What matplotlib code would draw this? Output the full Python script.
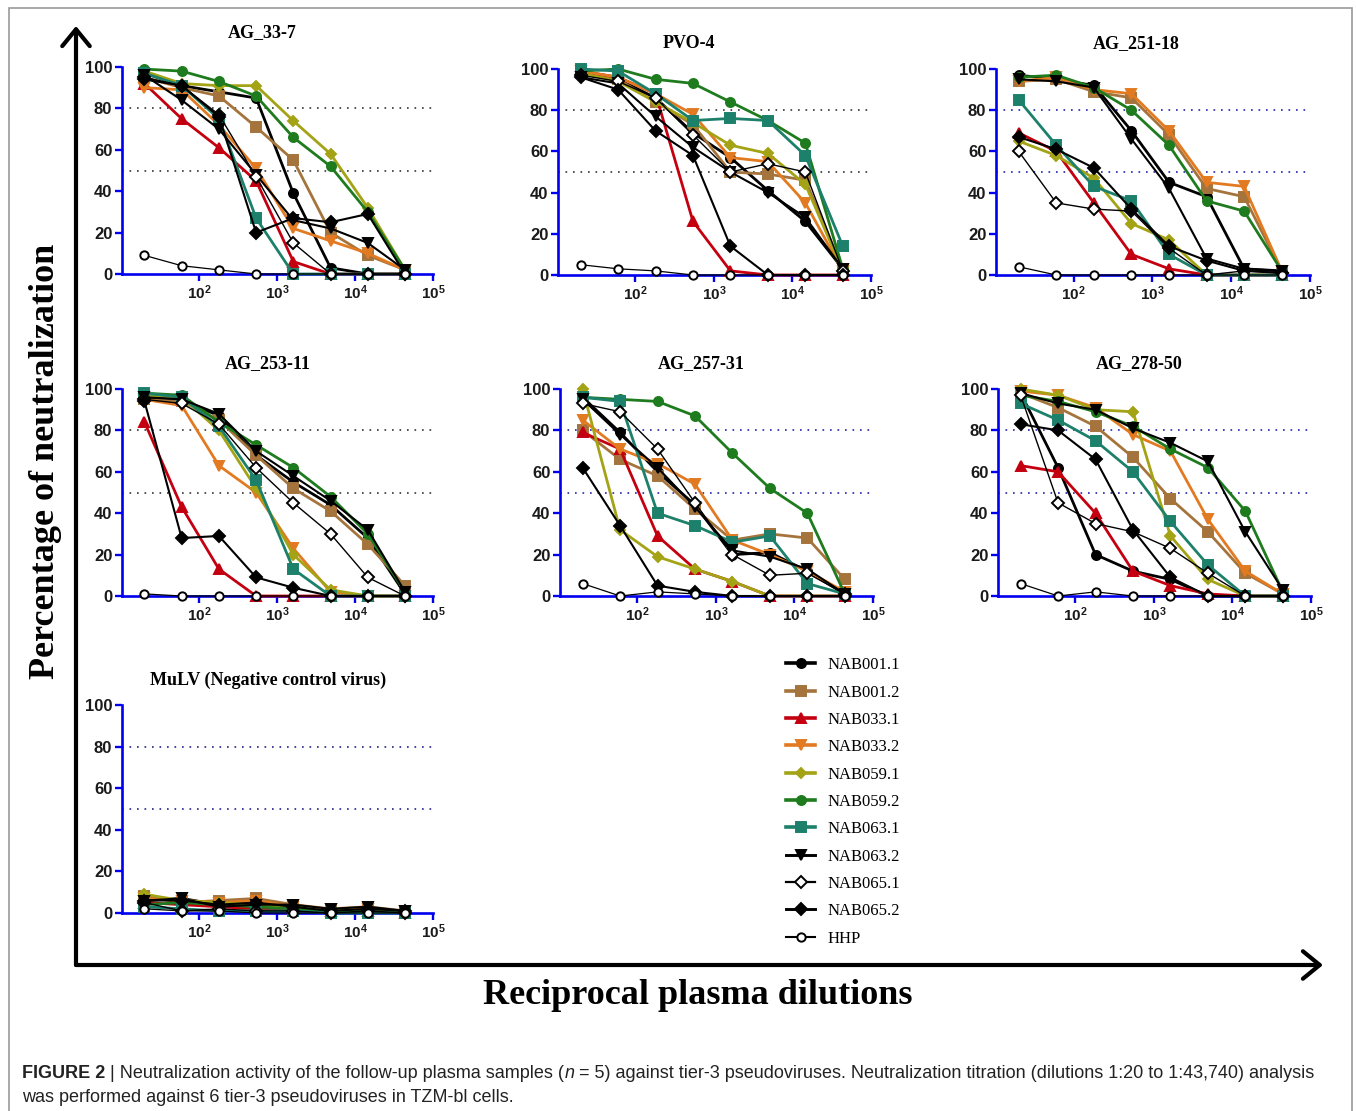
import matplotlib
matplotlib.use("Agg")
import matplotlib.pyplot as plt
from matplotlib.patches import FancyArrowPatch, Rectangle
from matplotlib.lines import Line2D
from matplotlib.text import Annotation

W, H = 1356, 1111

dilutions = [20, 60, 180, 540, 1620, 4860, 14580, 43740]

samples = ["NAB001.1", "NAB001.2", "NAB033.1", "NAB033.2", "NAB059.1",
           "NAB059.2", "NAB063.1", "NAB063.2", "NAB065.1", "NAB065.2", "HHP"]

# one row per sample, in the order of `samples`
ag_33_7 = [
    [97, 91, 88, 85, 39, 3, 0, 0],
    [95, 90, 86, 71, 55, 20, 9, 2],
    [92, 75, 61, 45, 6, 0, 0, 0],
    [90, 89, 72, 51, 22, 16, 10, 2],
    [98, 92, 91, 91, 74, 58, 32, 2],
    [99, 98, 93, 86, 66, 52, 30, 2],
    [97, 91, 75, 27, 0, 0, 0, 0],
    [96, 84, 70, 48, 26, 22, 15, 2],
    [95, 91, 77, 47, 15, 0, 0, 0],
    [94, 91, 76, 20, 27, 25, 29, 0],
    [9, 4, 2, 0, 0, 0, 0, 0],
]
pvo_4 = [
    [98, 95, 86, 69, 57, 41, 26, 3],
    [98, 95, 84, 73, 50, 49, 46, 3],
    [99, 96, 88, 26, 2, 0, 0, 0],
    [99, 96, 88, 78, 57, 55, 35, 2],
    [98, 94, 84, 74, 63, 59, 44, 2],
    [99, 100, 95, 93, 84, 75, 64, 3],
    [100, 99, 88, 75, 76, 75, 58, 14],
    [96, 93, 77, 62, 50, 40, 28, 3],
    [97, 94, 86, 68, 50, 54, 50, 2],
    [96, 90, 70, 58, 14, 0, 0, 0],
    [5, 3, 2, 0, 0, 0, 0, 0],
]
ag_251_18 = [
    [97, 95, 92, 70, 45, 38, 3, 2],
    [94, 95, 89, 86, 68, 42, 38, 2],
    [69, 60, 35, 10, 3, 0, 0, 0],
    [94, 96, 90, 88, 70, 45, 43, 2],
    [65, 58, 47, 25, 17, 0, 0, 0],
    [96, 97, 91, 80, 63, 36, 31, 2],
    [85, 63, 43, 36, 10, 0, 0, 0],
    [95, 94, 91, 66, 42, 8, 3, 2],
    [60, 35, 32, 31, 13, 0, 2, 1],
    [67, 61, 52, 32, 14, 7, 2, 1],
    [4, 0, 0, 0, 0, 0, 0, 0],
]
ag_253_11 = [
    [96, 95, 87, 68, 55, 44, 28, 1],
    [95, 94, 85, 68, 52, 41, 25, 5],
    [84, 43, 13, 0, 0, 0, 0, 0],
    [95, 92, 63, 50, 23, 2, 0, 0],
    [97, 96, 80, 52, 20, 3, 0, 0],
    [98, 97, 84, 73, 62, 48, 30, 2],
    [98, 96, 82, 56, 13, 0, 0, 0],
    [96, 95, 88, 70, 58, 46, 32, 2],
    [95, 93, 83, 62, 45, 30, 9, 0],
    [94, 28, 29, 9, 4, 0, 0, 0],
    [1, 0, 0, 0, 0, 0, 0, 0],
]
ag_257_31 = [
    [96, 79, 60, 44, 20, 21, 12, 1],
    [80, 66, 58, 42, 27, 30, 28, 8],
    [79, 71, 29, 13, 7, 0, 0, 0],
    [85, 71, 64, 54, 27, 20, 12, 2],
    [100, 32, 19, 13, 7, 0, 0, 0],
    [96, 95, 94, 87, 69, 52, 40, 1],
    [96, 94, 40, 34, 26, 29, 6, 1],
    [95, 78, 62, 43, 22, 19, 13, 1],
    [93, 89, 71, 45, 20, 10, 11, 1],
    [62, 34, 5, 2, 0, 0, 0, 0],
    [6, 0, 2, 1, 0, 0, 0, 0],
]
ag_278_50 = [
    [98, 62, 20, 12, 8, 0, 0, 0],
    [98, 91, 82, 67, 47, 31, 11, 1],
    [63, 60, 40, 12, 5, 1, 0, 0],
    [99, 97, 91, 78, 70, 37, 12, 1],
    [100, 97, 90, 89, 29, 8, 0, 0],
    [97, 94, 89, 82, 71, 62, 41, 2],
    [93, 85, 75, 60, 36, 15, 0, 0],
    [98, 93, 90, 81, 74, 65, 31, 3],
    [97, 45, 35, 31, 23, 11, 0, 0],
    [83, 80, 66, 32, 9, 0, 0, 0],
    [6, 0, 2, 0, 0, 0, 0, 0],
]
mulv = [
    [6, 7, 4, 5, 3, 1, 2, 1],
    [8, 5, 6, 7, 4, 2, 3, 1],
    [5, 4, 3, 2, 2, 1, 1, 0],
    [7, 6, 5, 6, 3, 2, 2, 1],
    [9, 6, 5, 4, 3, 1, 1, 1],
    [4, 5, 4, 3, 2, 1, 1, 0],
    [3, 2, 1, 1, 1, 0, 0, 0],
    [6, 7, 3, 4, 4, 2, 3, 1],
    [5, 1, 2, 1, 1, 0, 1, 0],
    [6, 6, 4, 5, 3, 1, 2, 1],
    [2, 1, 1, 0, 0, 0, 0, 0],
]

titles = ["AG_33-7", "PVO-4", "AG_251-18", "AG_253-11", "AG_257-31",
          "AG_278-50", "MuLV (Negative control virus)"]
panels = [ag_33_7, pvo_4, ag_251_18, ag_253_11, ag_257_31, ag_278_50, mulv]

# styling
colors = ["black", "#A5743C", "#C40010", "#E27A22", "#A3A315",
          "#1E7B1E", "#1C806A", "black", "black", "black", "black"]
markers = ["o", "s", "^", "v", "D", "o", "s", "v", "D", "D", "o"]
faces = ["black", "#A5743C", "#C40010", "#E27A22", "#A3A315",
         "#1E7B1E", "#1C806A", "black", "white", "black", "white"]
widths = [2.0, 2.0, 2.0, 2.0, 2.0, 2.0, 2.0, 1.5, 1.0, 1.5, 0.9]
msizes = [6.5, 6.5, 7, 7, 5.5, 6.5, 6.5, 7, 6, 6, 6]
dot_colors = ["#333333", "#333333", "#2222AA", "#333333", "#2222AA",
              "#2222AA", "#22228A"]

# axes boxes in pixels: left, top, right, bottom
boxes = [(122, 67, 433, 274), (558, 69, 871, 275), (996, 69, 1310, 275),
         (122, 389, 433, 596), (560, 389, 873, 596), (998, 389, 1311, 596),
         (122, 705, 433, 913)]
title_pos = [(262, 33), (689, 44), (1136, 44), (268, 364), (701, 364),
             (1139, 364), (268, 680)]

SERIF = "Liberation Serif"
SANS = "Liberation Sans"
BLUE = "#0000EE"

plt.rcParams["mathtext.fontset"] = "custom"
plt.rcParams["mathtext.bf"] = "Liberation Sans:bold"
plt.rcParams["mathtext.rm"] = "Liberation Sans:bold"


def fx(px):
    return px / W


def fy(py):
    return 1 - py / H


fig = plt.figure(figsize=(W / 100, H / 100), dpi=100)

for data, box, title, tpos, dcol in zip(panels, boxes, titles, title_pos, dot_colors):
    l, t, r, b = box
    ax = fig.add_axes([fx(l), fy(b), fx(r) - fx(l), fy(t) - fy(b)])
    ax.set_xscale("log")
    ax.set_xlim(10.3, 1e5)
    ax.set_ylim(0, 100)
    for lvl in (50, 80):
        ax.axhline(lvl, color=dcol, lw=1.2, ls=(0, (1, 3.5)), zorder=1)
    for i, vals in enumerate(data):
        ax.plot(dilutions, vals, color=colors[i], lw=widths[i],
                marker=markers[i], ms=msizes[i], mfc=faces[i],
                mec="black" if colors[i] == "black" else colors[i],
                mew=1.4, clip_on=False, zorder=3 + i * 0.1)
    for side in ("top", "right"):
        ax.spines[side].set_visible(False)
    for side in ("left", "bottom"):
        ax.spines[side].set_color(BLUE)
        ax.spines[side].set_linewidth(1.9)
    ax.set_yticks([0, 20, 40, 60, 80, 100])
    ax.set_xticks([1e2, 1e3, 1e4, 1e5])
    ax.set_xticklabels([r"$\mathbf{10^{2}}$", r"$\mathbf{10^{3}}$",
                        r"$\mathbf{10^{4}}$", r"$\mathbf{10^{5}}$"])
    ax.minorticks_off()
    ax.tick_params(axis="both", colors=BLUE, width=1.7, length=5,
                   labelcolor="#1a1a1a", labelsize=12, pad=2)
    ax.tick_params(axis="x", labelsize=11)
    for lab in ax.get_yticklabels():
        lab.set_fontfamily(SANS)
        lab.set_fontweight("bold")
    fig.text(fx(tpos[0]), fy(tpos[1]), title, ha="center", va="center",
             family=SERIF, weight="bold", fontsize=13)

# shared legend
handles = [Line2D([], [], color=colors[i], lw=widths[i] + 0.6,
                  marker=markers[i], ms=msizes[i], mfc=faces[i],
                  mec="black" if colors[i] == "black" else colors[i], mew=1.4)
           for i in range(len(samples))]
fig.legend(handles, samples, loc="upper left",
           bbox_to_anchor=(fx(778), fy(649)), frameon=False,
           prop={"family": SERIF, "size": 12}, handlelength=1.7,
           labelspacing=0.68, handletextpad=0.8, borderpad=0)

# big axis arrows
corner = (fx(76), fy(965))
for end in [(fx(76), fy(26)), (fx(1323), fy(965))]:
    fig.add_artist(FancyArrowPatch(corner, end, transform=fig.transFigure,
                                   arrowstyle="->,head_length=0.55,head_width=0.45",
                                   mutation_scale=22, lw=3, color="black",
                                   shrinkA=0, shrinkB=0))

fig.text(fx(46), fy(461), "Percentage of neutralization", rotation=90,
         ha="center", va="center", family=SERIF, weight="bold", fontsize=26)
fig.text(fx(698), fy(996), "Reciprocal plasma dilutions", ha="center",
         va="center", family=SERIF, weight="bold", fontsize=26)

# outer frame
fig.add_artist(Rectangle((fx(9), -0.02), fx(1352) - fx(9), fy(8) + 0.02,
                         transform=fig.transFigure, fill=False,
                         edgecolor="#9a9a9a", lw=1.2))

# caption, pieces chained after one another
cap = ["Liberation Sans Narrow", "Liberation Sans"]
last = fig.text(fx(22), fy(1073), "FIGURE 2", family=cap, weight="bold",
                fontsize=13, va="center", color="#222222")
parts = [(" | Neutralization activity of the follow-up plasma samples (", "normal"),
         ("n", "italic"),
         (" = 5) against tier-3 pseudoviruses. Neutralization titration "
          "(dilutions 1:20 to 1:43,740) analysis", "normal")]
for txt, style in parts:
    last = fig.add_artist(Annotation(txt, xy=(1, 0), xycoords=last,
                                     va="bottom", ha="left", family=cap,
                                     style=style, fontsize=13, color="#222222"))
fig.text(fx(22), fy(1097),
         "was performed against 6 tier-3 pseudoviruses in TZM-bl cells.",
         family=cap, fontsize=13, va="center", color="#222222")

fig.savefig("out.png", dpi=100)
